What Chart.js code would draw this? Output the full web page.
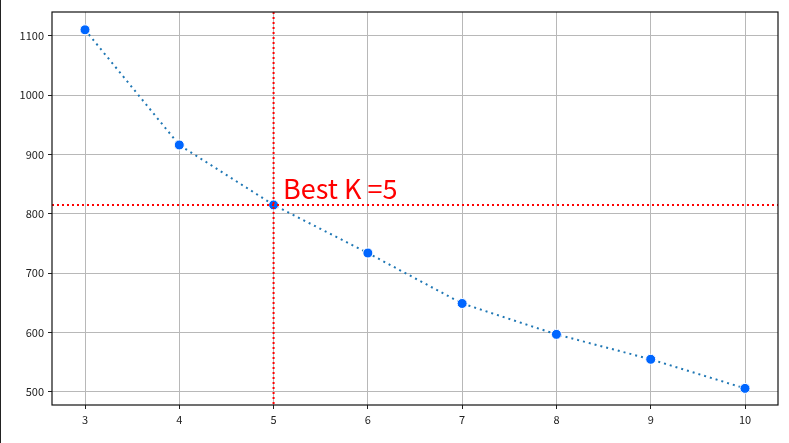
<!DOCTYPE html>
<html>
<head>
<meta charset="utf-8">
<script src="https://cdn.jsdelivr.net/npm/chart.js@4/dist/chart.umd.min.js"></script>
<style>
  html, body { margin: 0; padding: 0; background: #fff; }
  body { border-left: 1px solid #222; width: 788px; height: 443px; }
  #wrap { width: 788px; height: 443px; }
</style>
</head>
<body>
<div id="wrap"><canvas id="elbow"></canvas></div>
<script>
const kValues = [3, 4, 5, 6, 7, 8, 9, 10];
const inertia = [1110, 916, 815, 734, 649, 597, 555, 506];
const xTicks = [3, 4, 5, 6, 7, 8, 9, 10];
const yTicks = [500, 600, 700, 800, 900, 1000, 1100];
const bestK = 5;
const bestValue = 815;
const bestLabel = "Best K =" + bestK;

const tickFont = { family: "'Noto Sans CJK SC', 'Noto Sans', sans-serif", size: 11 };

// red dotted cross + label and the box around the plot
const markerPlugin = {
  id: "marker",
  afterDatasetsDraw(chart) {
    const { ctx, chartArea, scales } = chart;
    const x = scales.x.getPixelForValue(bestK);
    const y = scales.y.getPixelForValue(bestValue);
    ctx.save();
    ctx.strokeStyle = "red";
    ctx.lineWidth = 2;
    ctx.setLineDash([2, 3]);
    ctx.beginPath();
    ctx.moveTo(x, chartArea.top);
    ctx.lineTo(x, chartArea.bottom);
    ctx.moveTo(chartArea.left, y);
    ctx.lineTo(chartArea.right, y);
    ctx.stroke();
    ctx.setLineDash([]);
    ctx.fillStyle = "red";
    ctx.font = "27px 'Noto Sans CJK SC', 'Noto Sans', sans-serif";
    ctx.textBaseline = "alphabetic";
    ctx.fillText(bestLabel, scales.x.getPixelForValue(bestK + 0.1), scales.y.getPixelForValue(bestValue + 10));
    ctx.restore();
  },
  afterDraw(chart) {
    const { ctx, chartArea } = chart;
    ctx.save();
    ctx.strokeStyle = "#111";
    ctx.lineWidth = 1.2;
    ctx.strokeRect(chartArea.left, chartArea.top, chartArea.right - chartArea.left, chartArea.bottom - chartArea.top);
    ctx.restore();
  }
};

new Chart(document.getElementById("elbow"), {
  type: "line",
  data: {
    datasets: [
      {
        data: kValues.map((k, i) => ({ x: k, y: inertia[i] })),
        borderColor: "#1f77b4",
        borderWidth: 2,
        borderDash: [2, 4],
        pointBackgroundColor: "#0066ff",
        pointBorderColor: "#ffffff",
        pointBorderWidth: 1,
        pointRadius: 5,
        tension: 0,
      },
    ],
  },
  options: {
    responsive: true,
    maintainAspectRatio: false,
    animation: false,
    layout: { padding: { top: 12, right: 11, left: 0, bottom: 0 } },
    plugins: { legend: { display: false }, tooltip: { enabled: false } },
    scales: {
      x: {
        type: "linear",
        min: 2.65,
        max: 10.35,
        afterBuildTicks: (axis) => { axis.ticks = xTicks.map((v) => ({ value: v })); },
        afterFit: (axis) => { axis.height = 38; },
        ticks: { color: "#222", font: tickFont, padding: 4, callback: (v) => String(v) },
        grid: { color: "#b8b8b8", lineWidth: 1, tickColor: "#222", tickLength: 4 },
        border: { display: false },
      },
      y: {
        min: 478,
        max: 1140,
        afterBuildTicks: (axis) => { axis.ticks = yTicks.map((v) => ({ value: v })); },
        afterFit: (axis) => { axis.width = 51; },
        ticks: { color: "#222", font: tickFont, padding: 4, callback: (v) => String(v) },
        grid: { color: "#b8b8b8", lineWidth: 1, tickColor: "#222", tickLength: 4 },
        border: { display: false },
      },
    },
  },
  plugins: [markerPlugin],
});
</script>
</body>
</html>
